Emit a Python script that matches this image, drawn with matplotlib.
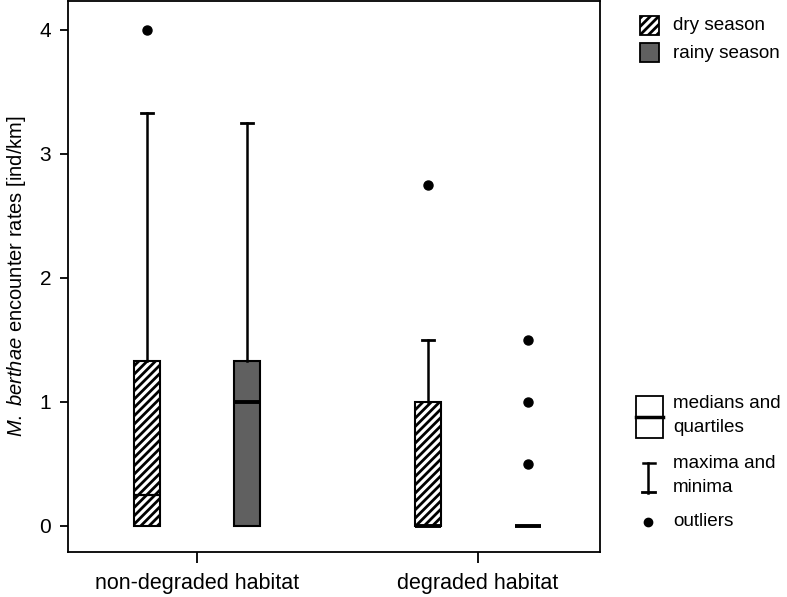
import matplotlib
matplotlib.use("Agg")
import matplotlib.pyplot as plt
from matplotlib.patches import Rectangle
from matplotlib.lines import Line2D

plt.rcParams['font.family'] = ['Liberation Sans', 'DejaVu Sans']
plt.rcParams['mathtext.fontset'] = 'custom'
plt.rcParams['mathtext.rm'] = 'Liberation Sans'
plt.rcParams['mathtext.it'] = 'Liberation Sans:italic'
plt.rcParams['hatch.linewidth'] = 2.0

# ---- data ----
groups = ["non-degraded habitat", "degraded habitat"]
seasons = ["dry season", "rainy season"]
q1 = [0, 0, 0, 0]
med = [0.25, 1.0, 0.0, 0.0]
q3 = [1.33, 1.33, 1.0, 0.0]
whislo = [0, 0, 0, 0]
whishi = [3.33, 3.25, 1.5, 0.0]
fliers = [[4.0], [], [2.75], [0.5, 1.0, 1.5]]
positions = [0.822, 1.178, 1.822, 2.178]
season_of_box = [0, 1, 0, 1]

fig = plt.figure(figsize=(7.87, 5.97), dpi=100)
ax = fig.add_axes([68/787, 45/597, 532/787, 551/597])

stats = []
for i in range(4):
    stats.append(dict(q1=q1[i], med=med[i], q3=q3[i], whislo=whislo[i],
                      whishi=whishi[i], fliers=fliers[i]))

bp = ax.bxp(stats, positions=positions, widths=0.093, patch_artist=True,
            showfliers=True, capwidths=0.045,
            boxprops=dict(linewidth=1.5, edgecolor='black'),
            medianprops=dict(color='black', linewidth=2.8, solid_capstyle='butt'),
            whiskerprops=dict(color='black', linewidth=1.8),
            capprops=dict(color='black', linewidth=2.0),
            flierprops=dict(marker='o', markerfacecolor='black',
                            markeredgecolor='black', markersize=6.5))

for box, s in zip(bp['boxes'], season_of_box):
    if s == 0:
        box.set_facecolor('white')
        box.set_hatch('////')
    else:
        box.set_facecolor('#606060')
bp['medians'][0].set_linewidth(1.6)
for i in range(4):
    if whislo[i] == q1[i]:
        bp['caps'][2 * i].set_visible(False)
    if whishi[i] == q3[i]:
        bp['caps'][2 * i + 1].set_visible(False)

ax.set_xlim(0.541, 2.434)
ax.set_ylim(-0.21, 4.23)
ax.set_xticks([1, 2])
ax.set_xticklabels(groups, fontsize=15.5)
ax.set_yticks([0, 1, 2, 3, 4])
ax.set_yticklabels(['0', '1', '2', '3', '4'], fontsize=15)
ax.tick_params(axis='y', direction='out', length=6, width=1.3, pad=6)
ax.tick_params(axis='x', direction='out', length=8, width=1.3, pad=7)
for sp in ax.spines.values():
    sp.set_linewidth(1.3)
ax.set_ylabel(r'$\it{M.\ berthae}$ encounter rates [ind/km]', fontsize=14.5, labelpad=8)

# ---- legend drawn in pixel coordinates on overlay ----
lg = fig.add_axes([0, 0, 1, 1], facecolor='none')
lg.set_xlim(0, 787)
lg.set_ylim(597, 0)
lg.axis('off')

lfs = 13.6
tx = 673
lg.add_patch(Rectangle((640, 16), 19, 19, facecolor='white', edgecolor='black',
                       hatch='////', linewidth=1.3))
lg.text(tx, 25.5, seasons[0], fontsize=lfs, va='center', ha='left')
lg.add_patch(Rectangle((640, 43), 19, 19, facecolor='#606060', edgecolor='black',
                       linewidth=1.3))
lg.text(tx, 53, seasons[1], fontsize=lfs, va='center', ha='left')

lg.add_patch(Rectangle((636, 396), 27, 42, facecolor='white', edgecolor='black',
                       linewidth=1.3))
lg.add_line(Line2D([636, 663], [417, 417], color='black', linewidth=2.5))
lg.text(tx, 403, 'medians and', fontsize=lfs, va='center', ha='left')
lg.text(tx, 428, 'quartiles', fontsize=lfs, va='center', ha='left')

lg.add_line(Line2D([648, 648], [463, 493], color='black', linewidth=1.8))
lg.add_line(Line2D([643, 655], [463, 463], color='black', linewidth=1.8))
lg.add_line(Line2D([642, 655], [492, 492], color='black', linewidth=2.0))
lg.text(tx, 464, 'maxima and', fontsize=lfs, va='center', ha='left')
lg.text(tx, 488, 'minima', fontsize=lfs, va='center', ha='left')

lg.plot([648], [522], marker='o', color='black', markersize=6)
lg.text(tx, 521, 'outliers', fontsize=lfs, va='center', ha='left')

fig.savefig('out.png', dpi=100)
